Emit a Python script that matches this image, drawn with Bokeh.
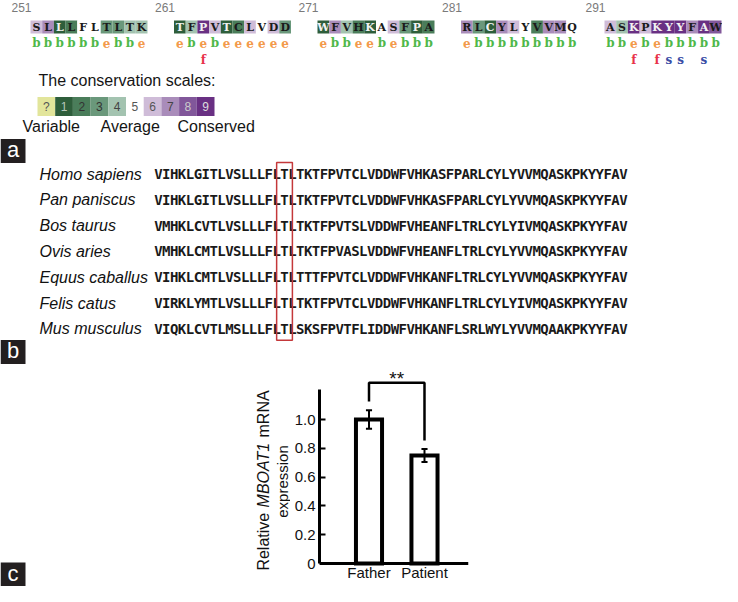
from bokeh.plotting import figure
from bokeh.models import Range1d, FixedTicker, PrintfTickFormatter, Span
from bokeh.layouts import column, row
from bokeh.embed import file_html
from bokeh.resources import INLINE
from bokeh.core.properties import value

# ---------------- data ----------------
block_starts = [251, 261, 271, 281, 291]
block_residues = ["SLLLFLTLTK", "TFPVTCLVDD", "WFVHKASFPA", "RLCYLYVVMQ", "ASKPKYYFAW"]
block_scores = [
    [6, 7, 1, 2, 5, 5, 3, 3, 4, 4],
    [1, 4, 9, 6, 1, 2, 6, 5, 6, 3],
    [1, 7, 4, 2, 1, 5, 6, 3, 1, 2],
    [7, 3, 1, 7, 6, 5, 2, 7, 7, 5],
    [6, 4, 9, 6, 9, 9, 9, 7, 9, 8],
]
block_exposure = ["bbbbbbebbe", "ebebeeeeee", "ebbeebebbb", "ebbbbbbbbb", "bbebebbbbb"]
block_marks = ["          ", "  f       ", "          ", "          ", "  f fss s "]

scale_labels = ["?", "1", "2", "3", "4", "5", "6", "7", "8", "9"]
scale_colors = ["#e2e59b", "#2e5e3b", "#4a7d5a", "#6a987b", "#a3c3b0", "#ffffff",
                "#cfbcd8", "#a98cba", "#81579a", "#693083"]
scale_words = ["Variable", "Average", "Conserved"]
scale_title = "The conservation scales:"

species = ["Homo sapiens", "Pan paniscus", "Bos taurus", "Ovis aries",
           "Equus caballus", "Felis catus", "Mus musculus"]
sequences = [
    "VIHKLGITLVSLLLFLTLTKTFPVTCLVDDWFVHKASFPARLCYLYVVMQASKPKYYFAV",
    "VIHKLGITLVSLLLFLTLTKTFPVTCLVDDWFVHKASFPARLCYLYVVMQASKPKYYFAV",
    "VMHKLCVTLVSLLLFLTLTKTFPVTSLVDDWFVHEANFLTRLCYLYIVMQASKPKYYFAV",
    "VMHKLCMTLVSLLLFLTLTKTFPVASLVDDWFVHEANFLTRLCYLYVVMQASKPKYYFAV",
    "VIHKLCMTLVSLLLFLTLTTTFPVTCLVDDWFVHKANFLTRLCYLYVVMQASKPKYYFAV",
    "VIRKLYMTLVSLLLFLTLTKTFPVTCLVDDWFVHKANFLTRLCYLYIVMQASKPKYYFAV",
    "VIQKLCVTLMSLLLFLTLSKSFPVTFLIDDWFVHKANFLSRLWYLYVVMQAAKPKYYFAV",
]
highlight_index = 16

categories = ["Father", "Patient"]
expression = [1.0, 0.75]
expression_err = [0.065, 0.045]
y_ticks = [0, 0.2, 0.4, 0.6, 0.8, 1.0]
significance = "**"
ylabel_parts = ["Relative", "MBOAT1", "mRNA"]
ylabel_line2 = "expression"

# ---------------- styles ----------------
SANS = value("Liberation Sans")
exp_colors = {"b": "#4fb84a", "e": "#f39a4b", "f": "#e8324a", "s": "#3b4ea6"}
TOP_H = 365
TOTAL_W, TOTAL_H = 722, 586
LEFT_W = 290

# ---------------- top figure (panels a & b) ----------------
top = figure(width=TOTAL_W, height=TOP_H, x_range=Range1d(0, TOTAL_W), y_range=Range1d(TOP_H, 0),
             output_backend="svg", toolbar_location=None, min_border=0,
             x_axis_location=None, y_axis_location=None)
top.grid.visible = False
top.outline_line_color = None

X0, STEP, CW = 30, 143.5, 11.7
CELL_Y, CELL_H = 26.5, 13
cx, ccol, tcol, lets = [], [], [], []
ex_x, ex_t, ex_c = [], [], []
mk_x, mk_t, mk_c = [], [], []
num_x, num_t = [], []
for b, (start, res, sc, ex, mk) in enumerate(zip(block_starts, block_residues, block_scores,
                                                   block_exposure, block_marks)):
    bx = X0 + b * STEP
    num_x.append(bx + 1)
    num_t.append(str(start))
    for i, ch in enumerate(res):
        x = bx + (i + 0.5) * CW
        cx.append(x)
        ccol.append(scale_colors[sc[i]])
        tcol.append("#f2f2f2" if sc[i] in (1, 9) else "#1a1a1a")
        lets.append(ch)
        ex_x.append(x); ex_t.append(ex[i]); ex_c.append(exp_colors[ex[i]])
        if mk[i] != " ":
            mk_x.append(x); mk_t.append(mk[i]); mk_c.append(exp_colors[mk[i]])

top.text(x=num_x, y=[7] * len(num_x), text=num_t, text_align="right", text_baseline="middle",
         text_font=SANS, text_font_size="12px", text_color="#7a7a7a")
top.rect(x=cx, y=[CELL_Y] * len(cx), width=CW, height=CELL_H, fill_color=ccol, line_color=None)
top.text(x=cx, y=[CELL_Y + 0.5] * len(cx), text=lets, text_align="center", text_baseline="middle",
         text_font=value("DejaVu Serif"), text_font_style="bold", text_font_size="11px",
         text_color=tcol)
top.text(x=ex_x, y=[42.5] * len(ex_x), text=ex_t, text_align="center", text_baseline="middle",
         text_font=value("DejaVu Serif"), text_font_style="bold", text_font_size="12px",
         text_color=ex_c)
top.text(x=mk_x, y=[59] * len(mk_x), text=mk_t, text_align="center", text_baseline="middle",
         text_font=value("DejaVu Serif"), text_font_style="bold", text_font_size="12px",
         text_color=mk_c)

# conservation scale legend
top.text(x=[38], y=[80], text=[scale_title], text_baseline="middle", text_font=SANS,
         text_font_size="16px", text_color="#151515")
SX0, SW = 37, 17.7
sx = [SX0 + (i + 0.5) * SW for i in range(len(scale_labels))]
top.rect(x=sx, y=[106] * len(sx), width=SW, height=19, fill_color=scale_colors, line_color=None)
top.text(x=sx, y=[106] * len(sx), text=scale_labels, text_align="center", text_baseline="middle",
         text_font=SANS, text_font_size="12px",
         text_color=["#555555", "#b8c8bc", "#333333", "#333333", "#444444", "#555555",
                     "#555555", "#444444", "#cccccc", "#dddddd"])
top.text(x=[22, 100, 177], y=[126] * 3, text=scale_words, text_baseline="middle", text_font=SANS,
         text_font_size="16px", text_color="#151515")

# panel letters
top.rect(x=[12.5, 12.5], y=[150.5, 351.5], width=25, height=24, fill_color="#231f20", line_color=None)
top.text(x=[12.5, 12.5], y=[149, 350], text=["a", "b"], text_align="center", text_baseline="middle",
         text_font=SANS, text_font_size="22px", text_color="white")

# alignment (panel b)
SEQ_X0, CHW, ROW_Y0, ROW_DY = 154, 7.88, 173.5, 25.8
top.text(x=[39] * len(species), y=[ROW_Y0 + k * ROW_DY for k in range(len(species))],
         text=species, text_baseline="middle", text_font=SANS, text_font_style="italic",
         text_font_size="16px", text_color="#111111")
sq_x, sq_y, sq_t = [], [], []
for k, s in enumerate(sequences):
    for i, ch in enumerate(s):
        sq_x.append(SEQ_X0 + (i + 0.5) * CHW)
        sq_y.append(ROW_Y0 + k * ROW_DY)
        sq_t.append(ch)
top.text(x=sq_x, y=sq_y, text=sq_t, text_align="center", text_baseline="middle",
         text_font=value("DejaVu Sans Mono"), text_font_style="bold", text_font_size="14px",
         text_color="#1a1a1a")
top.quad(left=[SEQ_X0 + (highlight_index - 0.5) * CHW], right=[SEQ_X0 + (highlight_index + 1.5) * CHW],
         top=[ROW_Y0 - 11.5], bottom=[ROW_Y0 + (len(species) - 1) * ROW_DY + 11.5],
         fill_color=None, line_color="#c4383a", line_width=1.5)

# ---------------- bottom-left (y label, panel c letter) ----------------
BOT_H = TOTAL_H - TOP_H
left = figure(width=LEFT_W, height=BOT_H, x_range=Range1d(0, LEFT_W), y_range=Range1d(TOTAL_H, TOP_H),
              output_backend="svg", toolbar_location=None, min_border=0,
              x_axis_location=None, y_axis_location=None)
left.grid.visible = False
left.outline_line_color = None
FS = 16
em = {"Relative": 3.61, "MBOAT1": 4.11, "mRNA": 2.94}
space = 0.3 * FS
widths = [em[p] * FS for p in ylabel_parts]
total = sum(widths) + space * (len(ylabel_parts) - 1)
acc = 480 + total / 2
centers = []
for w in widths:
    centers.append(acc - w / 2)
    acc -= w + space
for p_, y_ in zip(ylabel_parts, centers):
    left.text(x=[263], y=[y_], text=[p_], angle=1.5708, text_align="center", text_baseline="middle",
              text_font=SANS, text_font_size=f"{FS}px", text_color="#111111",
              text_font_style="italic" if p_ == "MBOAT1" else "normal")
left.text(x=[282], y=[481], text=[ylabel_line2], angle=1.5708, text_align="center",
          text_baseline="middle", text_font=SANS, text_font_size="15px", text_color="#111111")
left.rect(x=[12.5], y=[574], width=25, height=24, fill_color="#231f20", line_color=None)
left.text(x=[12.5], y=[572.5], text=["c"], text_align="center", text_baseline="middle",
          text_font=SANS, text_font_size="22px", text_color="white")

# ---------------- bar chart (panel c) ----------------
Y0_PX, PX_PER_UNIT = 563, 144.0
FRAME_L, FRAME_R = 319, 468
bar = figure(width=TOTAL_W - LEFT_W, height=BOT_H,
             x_range=Range1d(-0.892, 1.793),
             y_range=Range1d(-(TOTAL_H - Y0_PX) / PX_PER_UNIT, (Y0_PX - TOP_H) / PX_PER_UNIT),
             output_backend="svg", toolbar_location=None, x_axis_location=None,
             min_border_left=FRAME_L - LEFT_W, min_border_right=TOTAL_W - FRAME_R,
             min_border_top=0, min_border_bottom=0)
bar.grid.visible = False
bar.outline_line_color = None
xs = list(range(len(categories)))
bar.vbar(x=xs, top=expression, bottom=0, width=0.47, fill_color="white", line_color="black",
         line_width=4, line_join="miter")
lo = [m - e for m, e in zip(expression, expression_err)]
hi = [m + e for m, e in zip(expression, expression_err)]
bar.segment(x0=xs, y0=lo, x1=xs, y1=hi, line_color="black", line_width=2)
cap = 0.055
bar.segment(x0=[x - cap for x in xs] * 2, y0=lo + hi, x1=[x + cap for x in xs] * 2, y1=lo + hi,
            line_color="black", line_width=2)
gap = 0.06
br_top = max(hi) + 0.19
bar.line(x=[xs[0], xs[0], xs[1], xs[1]], y=[hi[0] + gap, br_top, br_top, hi[1] + gap],
         line_color="black", line_width=2.5)
bar.text(x=[(xs[0] + xs[1]) / 2], y=[br_top + 4 / PX_PER_UNIT], text=[significance],
         text_align="center", text_baseline="alphabetic", text_font=SANS,
         text_font_size="19px", text_color="#111111")

# x axis line and category labels
bar.add_layout(Span(location=0, dimension="width", line_color="black", line_width=3))
bar.text(x=xs, y=[-9 / PX_PER_UNIT] * len(xs), text=categories, text_align="center",
         text_baseline="middle", text_font=SANS, text_font_size="15px", text_color="#111111")

yax = bar.yaxis[0]
yax.ticker = FixedTicker(ticks=y_ticks)
yax.formatter = PrintfTickFormatter(format="%.1f")
yax.bounds = (0, 1.21)
yax.major_label_overrides = {0: "0"}
yax.major_tick_in = 6
yax.major_tick_out = 0
yax.minor_tick_line_color = None
yax.axis_line_width = 3
yax.major_tick_line_width = 2
yax.major_label_standoff = 4
yax.major_label_text_font = "Liberation Sans"
yax.major_label_text_font_size = "15px"
yax.major_label_text_color = "#111111"

layout = column(top, row(left, bar, spacing=0), spacing=0)
open("out.html", "w").write(file_html(layout, INLINE))
